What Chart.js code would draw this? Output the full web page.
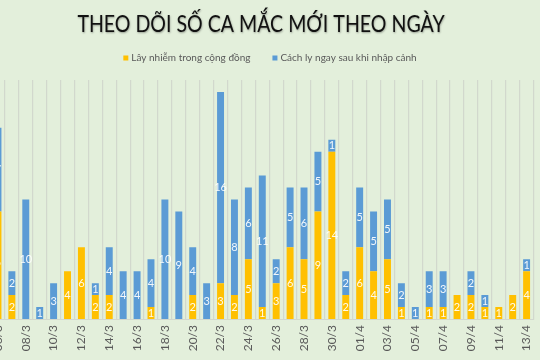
<!DOCTYPE html>
<html>
<head>
<meta charset="utf-8">
<script src="https://cdn.jsdelivr.net/npm/chart.js@4"></script>
<style>
  html, body { margin: 0; padding: 0; width: 540px; height: 360px; overflow: hidden; background: #e3efdb; }
  #wrap { position: absolute; left: -9px; top: 0; width: 556px; height: 360px; }
</style>
</head>
<body>
<div id="wrap"><canvas id="c" width="556" height="360"></canvas></div>
<script>
const dates = ["06/3","07/3","08/3","09/3","10/3","11/3","12/3","13/3","14/3","15/3","16/3","17/3","18/3","19/3","20/3","21/3","22/3","23/3","24/3","25/3","26/3","27/3","28/3","29/3","30/3","31/3","01/4","02/4","03/4","04/4","05/4","06/4","07/4","08/4","09/4","10/4","11/4","12/4","13/4"];
const community = [9,2,0,0,0,4,6,2,2,0,0,1,0,0,2,0,3,2,5,1,3,6,5,9,14,2,6,4,5,1,0,1,1,2,2,1,1,2,4];
const quarantine = [7,2,10,1,3,0,0,1,4,4,4,4,10,9,4,3,16,8,6,11,2,5,6,5,1,2,5,5,5,2,1,3,3,0,2,1,0,0,1];
const seriesNames = ["Lây nhiễm trong cộng đồng", "Cách ly ngay sau khi nhập cảnh"];
const seriesColors = ["#ffc000", "#5b9bd5"];
const titleText = "THEO DÕI SỐ CA MẮC MỚI THEO NGÀY";

const valueLabels = {
  id: 'valueLabels',
  afterDatasetsDraw(chart) {
    const ctx = chart.ctx;
    ctx.save();
    ctx.font = '11px Lato';
    ctx.fillStyle = 'rgba(255,255,255,0.92)';
    ctx.textAlign = 'center';
    ctx.textBaseline = 'middle';
    chart.data.datasets.forEach((ds, i) => {
      const meta = chart.getDatasetMeta(i);
      meta.data.forEach((bar, j) => {
        const v = ds.data[j];
        if (!v) return;
        ctx.fillText(String(v), bar.x, (bar.y + bar.base) / 2);
      });
    });
    ctx.restore();
  }
};

// title and legend drawn at the top of the canvas (canvas is offset 9px left of the page)
const headerPlugin = {
  id: 'header',
  afterDraw(chart) {
    const ctx = chart.ctx;
    // title
    ctx.save();
    ctx.translate(270, 25);
    ctx.scale(0.85, 1);
    ctx.font = '23px Lato';
    ctx.fillStyle = '#111';
    ctx.shadowColor = 'rgba(0,0,0,0.35)';
    ctx.shadowBlur = 2;
    ctx.shadowOffsetX = 0.5;
    ctx.shadowOffsetY = 0.5;
    ctx.textAlign = 'center';
    ctx.textBaseline = 'middle';
    ctx.fillText(titleText, 0, 0);
    ctx.restore();
    // legend
    ctx.save();
    ctx.font = '10px Lato';
    ctx.textBaseline = 'middle';
    ctx.textAlign = 'left';
    const box = 5, gapBox = 3, gapItem = 22, cy = 58;
    const widths = chart.data.datasets.map(ds => ctx.measureText(ds.label).width);
    const total = widths.reduce((a, w) => a + box + gapBox + w, 0) + gapItem * (widths.length - 1);
    let x = 279 - total / 2;
    chart.data.datasets.forEach((ds, i) => {
      ctx.fillStyle = ds.backgroundColor;
      ctx.fillRect(x, cy - box / 2, box, box);
      x += box + gapBox;
      ctx.fillStyle = '#595959';
      ctx.fillText(ds.label, x, cy);
      x += widths[i] + gapItem;
    });
    ctx.restore();
  }
};

new Chart(document.getElementById('c'), {
  type: 'bar',
  data: {
    labels: dates,
    datasets: [
      { label: seriesNames[0], data: community, backgroundColor: seriesColors[0], barPercentage: 0.5, categoryPercentage: 1 },
      { label: seriesNames[1], data: quarantine, backgroundColor: seriesColors[1], barPercentage: 0.5, categoryPercentage: 1 }
    ]
  },
  options: {
    responsive: false,
    animation: false,
    layout: { padding: { left: 0, right: 0, top: 80, bottom: 0 } },
    plugins: {
      title: { display: false },
      legend: { display: false },
      tooltip: { enabled: false }
    },
    scales: {
      x: {
        stacked: true,
        grid: { display: true, offset: true, color: '#d2d8cd', lineWidth: 1.2, drawTicks: false },
        border: { display: true, color: '#d2d8cd' },
        ticks: {
          autoSkip: false, maxRotation: 90, minRotation: 90, padding: 6,
          color: '#595959', font: { family: 'Lato', size: 12 },
          callback: function(v, i) { return i % 2 === 0 ? dates[i] : ''; }
        },
        afterFit(scale) { scale.height = 41; }
      },
      y: {
        stacked: true, display: false, min: 0, max: 20,
        grid: { display: false }
      }
    }
  },
  plugins: [valueLabels, headerPlugin]
});
</script>
</body>
</html>
